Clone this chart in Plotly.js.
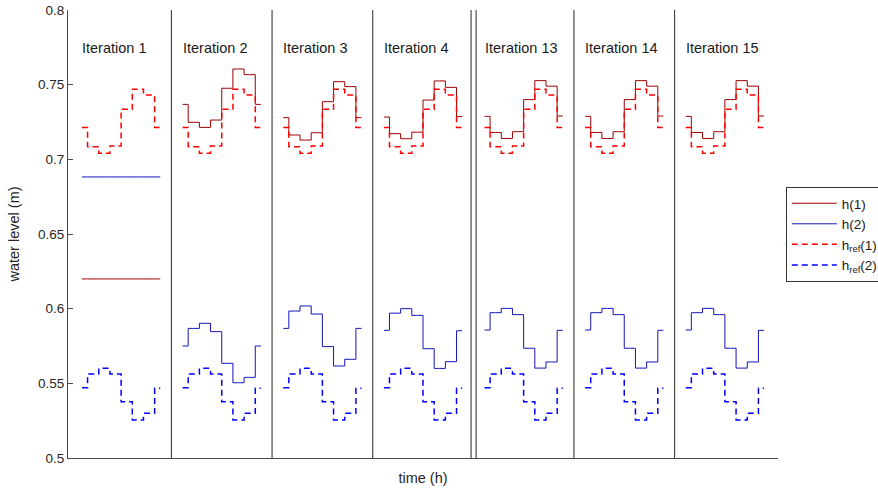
<!DOCTYPE html>
<html>
<head>
<meta charset="utf-8">
<script src="https://cdn.plot.ly/plotly-3.0.1.min.js"></script>
<style>
  html, body { margin: 0; padding: 0; background: #fff; }
  #chart { width: 878px; height: 488px; }
</style>
</head>
<body>
<div id="chart"></div>
<script>
// Iterations shown (5-12 are skipped, marked by the double separator)
const iterations = ["Iteration 1", "Iteration 2", "Iteration 3", "Iteration 4",
                    "Iteration 13", "Iteration 14", "Iteration 15"];
// Start hour of each iteration block on the shared time axis
const blockStart = [1, 10, 19, 28, 37, 46, 55];
// Hours within one iteration
const hours = [0, 1, 2, 3, 4, 5, 6, 7];

// Reference water levels (same for every iteration)
const href1 = [0.7214, 0.7085, 0.7040, 0.7090, 0.7335, 0.7470, 0.7430, 0.7214];
const href2 = [0.5471, 0.5563, 0.5601, 0.5563, 0.5377, 0.5254, 0.5299, 0.5467];

// Simulated water level h(1) per iteration
const h1It1  = [0.6199, 0.6199, 0.6199, 0.6199, 0.6199, 0.6199, 0.6199, 0.6199];
const h1It2  = [0.7368, 0.7248, 0.7214, 0.7263, 0.7476, 0.7605, 0.7567, 0.7368];
const h1It3  = [0.7279, 0.7163, 0.7129, 0.7178, 0.7386, 0.7520, 0.7487, 0.7279];
const h1It4  = [0.7283, 0.7172, 0.7138, 0.7182, 0.7397, 0.7525, 0.7482, 0.7286];
const h1It13 = [0.7288, 0.7180, 0.7140, 0.7185, 0.7400, 0.7527, 0.7490, 0.7290];
const h1It14 = [0.7288, 0.7180, 0.7140, 0.7185, 0.7400, 0.7527, 0.7490, 0.7290];
const h1It15 = [0.7288, 0.7180, 0.7140, 0.7185, 0.7400, 0.7527, 0.7490, 0.7290];

// Simulated water level h(2) per iteration
const h2It1  = [0.6882, 0.6882, 0.6882, 0.6882, 0.6882, 0.6882, 0.6882, 0.6882];
const h2It2  = [0.5750, 0.5868, 0.5902, 0.5846, 0.5634, 0.5504, 0.5540, 0.5750];
const h2It3  = [0.5868, 0.5984, 0.6018, 0.5964, 0.5746, 0.5616, 0.5661, 0.5868];
const h2It4  = [0.5855, 0.5970, 0.6000, 0.5955, 0.5732, 0.5600, 0.5645, 0.5852];
const h2It13 = [0.5857, 0.5973, 0.6002, 0.5960, 0.5735, 0.5602, 0.5643, 0.5855];
const h2It14 = [0.5857, 0.5973, 0.6002, 0.5960, 0.5735, 0.5602, 0.5643, 0.5855];
const h2It15 = [0.5857, 0.5973, 0.6002, 0.5960, 0.5735, 0.5602, 0.5643, 0.5855];

const h1Series = [h1It1, h1It2, h1It3, h1It4, h1It13, h1It14, h1It15];
const h2Series = [h2It1, h2It2, h2It3, h2It4, h2It13, h2It14, h2It15];
const href1Series = blockStart.map(() => href1);
const href2Series = blockStart.map(() => href2);

// Join the per-iteration blocks into one trace, broken by nulls
function joinBlocks(blocks) {
  const x = [], y = [];
  blocks.forEach((vals, k) => {
    hours.forEach((h, i) => { x.push(blockStart[k] + h); y.push(vals[i]); });
    x.push(null); y.push(null);
  });
  return { x, y };
}

function stairTrace(blocks, name, color, width, dash) {
  const d = joinBlocks(blocks);
  return {
    type: 'scatter', mode: 'lines', name: name,
    x: d.x, y: d.y, connectgaps: false,
    line: { shape: 'hvh', color: color, width: width, dash: dash }
  };
}

const traces = [
  stairTrace(h1Series, 'h(1)', '#9c0000', 1, 'solid'),
  stairTrace(h2Series, 'h(2)', '#1414b8', 1, 'solid'),
  stairTrace(href1Series, 'h<sub>ref</sub>(1)', '#ff0000', 1.5, '6px,4px'),
  stairTrace(href2Series, 'h<sub>ref</sub>(2)', '#0000ff', 1.5, '6px,4px')
];

// Separator lines between iterations
const separators = [9, 18, 27, 35.8, 36.25, 45, 54];
const axisColor = '#4a4a4a';
const shapes = separators.map(s => ({
  type: 'line', xref: 'x', yref: 'paper', x0: s, x1: s, y0: 0, y1: 1,
  line: { color: axisColor, width: 1.2 }
}));

const annotations = iterations.map((t, k) => ({
  text: t, x: blockStart[k], y: 0.7745, xref: 'x', yref: 'y',
  xanchor: 'left', yanchor: 'middle', showarrow: false, xshift: -2,
  font: { size: 14.5, color: '#1a1a1a' }
}));

const layout = {
  width: 878, height: 488,
  margin: { l: 68, r: 100, t: 10, b: 30, autoexpand: false },
  paper_bgcolor: '#ffffff', plot_bgcolor: '#ffffff',
  font: { family: 'Liberation Sans, Arial, sans-serif', color: '#262626' },
  showlegend: true,
  legend: {
    x: 1.011, y: 0.605, xanchor: 'left', yanchor: 'top',
    bordercolor: '#333333', borderwidth: 1, bgcolor: '#ffffff',
    font: { size: 13.5, color: '#1a1a1a' },
    itemwidth: 45, tracegroupgap: 0
  },
  xaxis: {
    range: [-0.25, 63.25], showgrid: false, zeroline: false,
    showline: true, linecolor: axisColor, linewidth: 1,
    showticklabels: false, ticks: '',
    title: { text: 'time (h)', font: { size: 14.5, color: '#262626' }, standoff: 14 }
  },
  yaxis: {
    range: [0.5, 0.8], showgrid: false, zeroline: false,
    showline: true, linecolor: axisColor, linewidth: 1,
    tickvals: [0.5, 0.55, 0.6, 0.65, 0.7, 0.75, 0.8],
    ticktext: ['0.5', '0.55', '0.6', '0.65', '0.7', '0.75', '0.8'],
    ticks: 'inside', ticklen: 5, tickcolor: axisColor,
    tickfont: { size: 13.5, color: '#262626' },
    title: { text: 'water level (m)', font: { size: 14.5, color: '#262626' }, standoff: 14 }
  },
  shapes: shapes,
  annotations: annotations
};

Plotly.newPlot('chart', traces, layout, { displayModeBar: false, staticPlot: true });
</script>
</body>
</html>
